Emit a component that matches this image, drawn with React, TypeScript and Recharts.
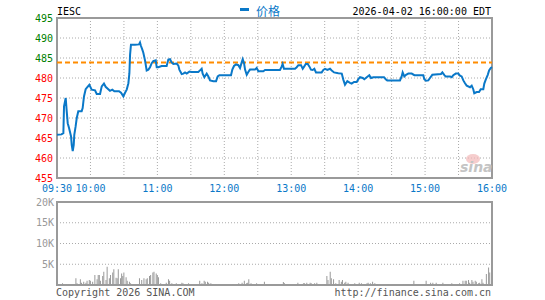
import {
  ComposedChart, Line, Bar, XAxis, YAxis, CartesianGrid,
  ReferenceLine, ReferenceArea
} from 'recharts'

// minutes since 09:30 and last price
const priceTimes = [
  0, 4, 5.7, 6.3, 7.8, 8.7, 9.6, 10.8, 12.6, 13.2, 14.1, 15, 15.5, 16.7, 17.7, 19.1, 22.1, 23, 24.2, 25.7,
  27.2, 29, 31.1, 34.1, 35.6, 38.6, 40.1, 42.1, 43.6, 46, 47.5, 49.6, 51.4, 55.6, 57.4, 59.5, 61, 62.5, 64, 64.9,
  65.5, 66.3, 69.9, 73.5, 74.4, 75.3, 76.5, 77.4, 78.9, 80.4, 81.9, 83.4, 84.9, 86.3, 88.5, 89.4, 90.8, 93.8, 98.3, 99.8,
  101.3, 102.8, 104.3, 107.3, 108.8, 109.7, 111.8, 113.3, 114.8, 116.3, 118.7, 120.7, 126.7, 128.2, 129.7, 130.6, 132.1, 134.2, 135.7, 137.2,
  140.2, 142.6, 144.1, 145.6, 156, 157.2, 158.7, 160.5, 162.6, 164.1, 165.6, 166.5, 167.7, 168.6, 170.1, 171.5, 173, 177.5, 179, 180.5,
  185, 186.5, 199.9, 201.5, 202.3, 203.5, 213.4, 214.9, 216.4, 218.8, 220.3, 221.7, 223, 224.8, 226.2, 227.7, 229.2, 230.7, 232.2, 237.3,
  238.8, 240.3, 242.4, 244.8, 246.3, 248.4, 252.2, 255.3, 256.7, 258.2, 260.3, 262.7, 264.2, 266.3, 268.7, 270.2, 271.7, 274.1, 275.5, 277.7,
  280, 281.5, 283.6, 293.2, 294.7, 296.1, 307.5, 309, 309.9, 311.4, 312.9, 315, 318, 320.4, 328.4, 329.3, 330.8, 332.9, 334.4, 336.5,
  344.3, 345.5, 347.3, 348.5, 352.4, 353.9, 355.3, 357.5, 359.8, 361.3, 362.8, 364.3, 365.8, 367.3, 370.3, 371.8, 373.2, 374.1, 376.3, 378.4,
  379.9, 382.2, 383.1, 384.4, 386.2, 387.4, 388.9, 390
]
const prices = [
  465.8, 465.9, 466.2, 472.9, 475.0, 471.7, 468.7, 467.5, 465.4, 463.3, 461.7, 463.3, 465.8, 467.9, 470, 471.7, 471.7, 472.5, 475.4, 477.2,
  477.7, 478.3, 477.1, 476.9, 476, 476, 477.9, 478.6, 477.8, 477.2, 476.8, 477.1, 476.7, 476.7, 476.3, 475.4, 476.3, 477.1, 478.7, 481.2,
  485.8, 488.3, 488.3, 488.4, 488.9, 488, 487.1, 486.3, 484.4, 481.9, 482.1, 482.7, 483.7, 484.2, 484.4, 482.7, 482.7, 483, 483, 484.6,
  484.7, 483.9, 483.5, 483.6, 483.1, 482.1, 481, 481.1, 481.4, 481.1, 481.6, 481.5, 481.5, 481.9, 482.3, 481.1, 480.2, 481.1, 480.4, 479.4,
  479.2, 479.2, 480.4, 480.7, 480.7, 482.1, 483, 483.4, 483.2, 482.5, 483.9, 484.7, 483.7, 482.1, 480.8, 481.5, 482.1, 482.1, 482.5, 481.7,
  481.7, 482, 482, 482.9, 483.5, 482.3, 482.3, 482.7, 483.2, 483.2, 482.3, 482.9, 483.5, 483.5, 482.9, 482.1, 482, 482.3, 481.4, 481.4,
  482, 482.3, 482, 482.3, 481.9, 481.4, 481.2, 481.1, 479.6, 478.3, 479.2, 478.8, 478.6, 479, 479, 479.7, 480.2, 480, 479.7, 480.2,
  480.7, 480, 480.2, 480.2, 479.7, 479.4, 479.4, 480.4, 481.4, 480.4, 480.8, 481.1, 481.1, 480.7, 480.7, 479.7, 479.3, 479.4, 480, 480.8,
  481, 481.4, 480.7, 480.4, 480.4, 480.2, 480.7, 481.1, 481.1, 480.6, 480.4, 479.4, 478.7, 478.1, 477.7, 478.1, 477.2, 476.2, 476.5, 476.5,
  477.2, 477.2, 478.6, 479.6, 480.8, 481.9, 482.5, 482.7
]

const volTimes = [
  0, 5, 6, 9, 11, 13, 14, 15, 17, 18, 21, 22, 24, 26, 27, 29, 30, 32, 34, 36,
  37, 38, 39, 41, 42, 44, 45, 47, 48, 50, 51, 53, 54, 55, 57, 58, 59, 60, 62, 63,
  65, 66, 74, 76, 78, 80, 81, 83, 84, 86, 87, 89, 90, 91, 93, 95, 98, 100, 101, 103,
  104, 106, 107, 110, 112, 113, 115, 118, 121, 128, 130, 132, 133, 135, 136, 138, 140, 143, 145, 158,
  161, 163, 166, 168, 170, 171, 172, 174, 176, 179, 186, 203, 204, 216, 221, 222, 224, 225, 227, 228,
  230, 231, 233, 240, 242, 243, 245, 246, 248, 250, 253, 255, 256, 258, 259, 261, 263, 267, 271, 273,
  275, 278, 279, 281, 283, 285, 287, 297, 311, 313, 315, 320, 331, 333, 335, 337, 340, 346, 348, 351,
  354, 355, 360, 361, 364, 366, 367, 369, 370, 372, 373, 375, 376, 378, 379, 381, 382, 385, 387, 388
]
const volumes = [
  2160, 400, 240, 240, 240, 240, 240, 240, 1600, 400, 1400, 560, 800, 560, 1040, 1200, 1040, 800, 2400, 1360,
  2400, 2400, 1040, 2160, 3200, 1200, 4400, 1600, 2400, 3000, 3800, 1760, 1600, 3800, 1600, 2800, 2160, 3000, 1840, 1040,
  800, 400, 1600, 1200, 1600, 1360, 1600, 2160, 2400, 3000, 3200, 2800, 2400, 1840, 400, 240, 560, 1400, 1040, 400,
  240, 240, 400, 240, 560, 400, 240, 400, 240, 1040, 400, 1040, 800, 800, 560, 400, 240, 240, 240, 240,
  240, 400, 560, 1040, 400, 560, 1400, 400, 240, 400, 800, 720, 400, 560, 400, 400, 560, 240, 560, 400,
  240, 400, 560, 240, 2160, 1200, 3200, 1600, 1360, 400, 1200, 800, 1200, 560, 800, 560, 240, 400, 560, 400,
  240, 400, 560, 400, 800, 400, 240, 240, 240, 240, 240, 1040, 1040, 240, 560, 560, 560, 560, 240, 240,
  400, 240, 240, 400, 1040, 1040, 1040, 1200, 560, 1200, 800, 1040, 800, 400, 560, 1400, 560, 2640, 4200, 3000
]

const PREV_CLOSE = 483.87
const priceTicks = [455, 460, 465, 470, 475, 480, 485, 490, 495]
const pctLabels = ['-5.96%', '-4.93%', '-3.90%', '-2.86%', '-1.83%', '-0.80%', '+0.24%', '+1.27%', '+2.30%']
const timeTicks = [0, 30, 60, 90, 120, 150, 180, 210, 240, 270, 300, 330, 360, 390]
const timeLabels = ['09:30', '10:00', '', '11:00', '', '12:00', '', '13:00', '', '14:00', '', '15:00', '', '16:00']
const volTicks = [0, 5000, 10000, 15000, 20000]
const volLabels = ['', '5K', '10K', '15K', '20K']

const MONO = '"DejaVu Sans Mono", monospace'
const BLUE = '#0a78c8'
const GREEN = '#008000'
const RED = '#ff0000'
const GRID = '#aaaaaa'
const BORDER = '#9a9a9a'

const priceData = priceTimes.map((t, i) => ({ t, price: prices[i] }))
const volData = volTimes.map((t, i) => ({ t, vol: volumes[i] }))

const PriceTick = ({ x, y, payload }: any) => (
  <text x={x} y={y} dy="0.35em" textAnchor="end" fontFamily={MONO} fontSize={10}
    fill={payload.value >= PREV_CLOSE ? GREEN : RED}>{payload.value}</text>
)

const PctTick = ({ x, y, payload }: any) => {
  const i = priceTicks.indexOf(payload.value)
  return (
    <text x={x} y={y} dy="0.35em" textAnchor="start" fontFamily={MONO} fontSize={10}
      fill={payload.value >= PREV_CLOSE ? GREEN : RED}>{pctLabels[i]}</text>
  )
}

const TimeTick = ({ x, y, payload }: any) => {
  const i = timeTicks.indexOf(payload.value)
  return (
    <text x={x} y={y} dy="0.71em" textAnchor="middle" fontFamily={MONO} fontSize={10} fill={BLUE}>
      {timeLabels[i]}
    </text>
  )
}

const VolTick = ({ x, y, payload }: any) => {
  const i = volTicks.indexOf(payload.value)
  return (
    <text x={x} y={y} dy="0.35em" textAnchor="end" fontFamily={MONO} fontSize={10} fill="#999">
      {volLabels[i]}
    </text>
  )
}

export default function App() {
  return (
    <div style={{ position: 'absolute', left: 0, top: 0, width: 545, height: 300, background: '#fff', overflow: 'hidden' }}>
      <div style={{ position: 'absolute', left: 0, top: 0 }}>
        <ComposedChart width={545} height={200} data={priceData} margin={{ top: 18, right: 0, bottom: 0, left: 0 }}>
          <CartesianGrid yAxisId="p" stroke={GRID} strokeDasharray="1 2" />
          <XAxis dataKey="t" type="number" domain={[0, 390]} ticks={timeTicks} interval={0}
            tick={<TimeTick />} tickLine={false} axisLine={false} tickSize={0} tickMargin={7} height={22} />
          <YAxis yAxisId="p" domain={[455, 495]} ticks={priceTicks} interval={0} width={57}
            tick={<PriceTick />} tickLine={false} axisLine={false} tickSize={0} tickMargin={4} />
          <YAxis yAxisId="pct" orientation="right" domain={[455, 495]} ticks={priceTicks} interval={0} width={53}
            tick={<PctTick />} tickLine={false} axisLine={false} tickSize={0} tickMargin={3} />
          <ReferenceArea yAxisId="p" x1={0} x2={390} y1={455} y2={495} fill="none" stroke={BORDER} strokeWidth={2} />
          <ReferenceLine yAxisId="p" y={PREV_CLOSE} stroke="#ff8c00" strokeWidth={2} strokeDasharray="5 3" />
          <Line yAxisId="p" type="linear" dataKey="price" stroke={BLUE} strokeWidth={2} dot={false} isAnimationActive={false} />
        </ComposedChart>
      </div>
      <div style={{ position: 'absolute', left: 0, top: 190 }}>
        <ComposedChart width={545} height={100} data={volData} margin={{ top: 12, right: 53, bottom: 5, left: 0 }}>
          <CartesianGrid stroke={GRID} strokeDasharray="1 2" />
          <XAxis dataKey="t" type="number" domain={[0, 390]} ticks={timeTicks} interval={0} tick={false}
            tickLine={false} axisLine={false} height={0} />
          <YAxis domain={[0, 20000]} ticks={volTicks} interval={0} width={57}
            tick={<VolTick />} tickLine={false} axisLine={false} tickSize={0} tickMargin={3} />
          <ReferenceArea x1={0} x2={390} y1={0} y2={20000} fill="none" stroke={BORDER} strokeWidth={2} />
          <Bar dataKey="vol" fill="#999" barSize={1} isAnimationActive={false} />
        </ComposedChart>
      </div>
      <svg width={545} height={300} style={{ position: 'absolute', left: 0, top: 0, pointerEvents: 'none' }}>
        <text x={57} y={15} fontFamily={MONO} fontSize={10} fill="#000">IESC</text>
        <rect x={240} y={8} width={9} height={3} fill={BLUE} />
        <text x={256} y={16} fontFamily='"Noto Sans CJK SC", sans-serif' fontSize={12} fill={BLUE}>价格</text>
        <text x={491} y={15} textAnchor="end" fontFamily={MONO} fontSize={10} fill="#000">2026-04-02 16:00:00 EDT</text>
        <ellipse cx={473} cy={159} rx={7} ry={5} fill="#f2b8b8" opacity={0.7} />
        <text x={460} y={172} fontFamily='"DejaVu Sans", sans-serif' fontSize={14} fontStyle="italic" fontWeight="bold"
          fill="#c4c4c4">sina</text>
        <text x={56} y={296} fontFamily={MONO} fontSize={10} fill="#555">Copyright 2026 SINA.COM</text>
        <text x={491} y={296} textAnchor="end" fontFamily={MONO} fontSize={10} fill="#555">http://finance.sina.com.cn</text>
      </svg>
    </div>
  )
}
